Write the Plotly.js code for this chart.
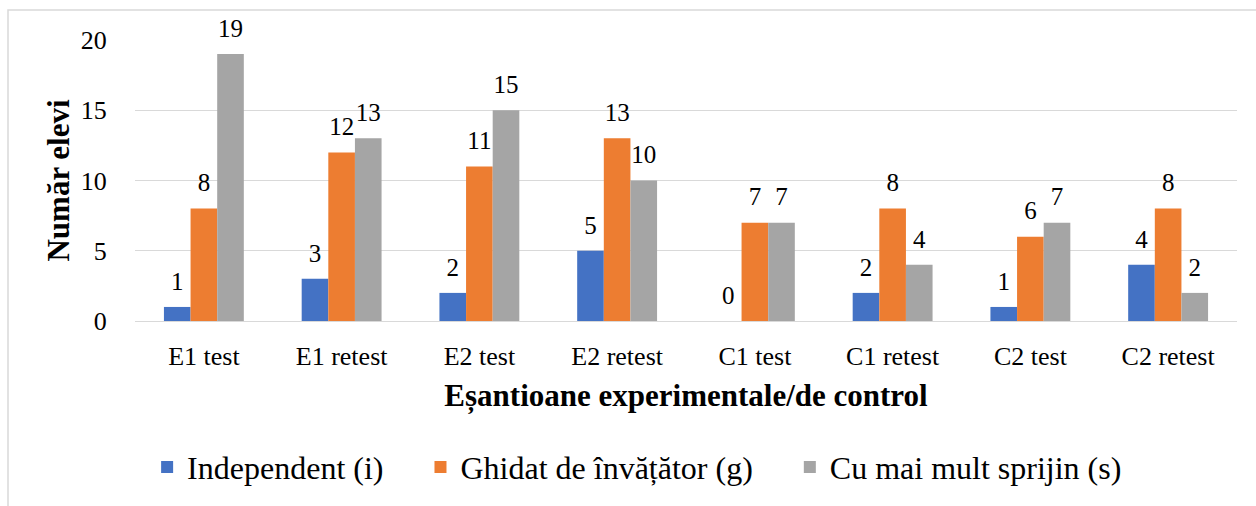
<!DOCTYPE html>
<html>
<head>
<meta charset="utf-8">
<script src="https://cdn.plot.ly/plotly-3.0.1.min.js"></script>
<style>html,body{margin:0;padding:0;background:#fff;}#chart{width:1256px;height:506px;}</style>
</head>
<body>
<div id="chart"></div>
<script>
const categories = ["E1 test","E1 retest","E2 test","E2 retest","C1 test","C1 retest","C2 test","C2 retest"];
const seriesNames = ["Independent (i)","Ghidat de învățător (g)","Cu mai mult sprijin (s)"];
const independent = [1,3,2,5,0,2,1,4];
const ghidat = [8,12,11,13,7,8,6,8];
const sprijin = [19,13,15,10,7,4,7,2];
const yTicks = [0,5,10,15,20];

const colors = ["#4472C4","#ED7D31","#A5A5A5"];
const FONT = "Liberation Serif";
const values = [independent, ghidat, sprijin];
const PAD = "\u00a0\u00a0\u00a0\u00a0";

const bars = values.map((v,i)=>({
  type:"bar",
  name:seriesNames[i] + (i < 2 ? PAD : ""),
  x:categories,
  y:v,
  offsetgroup:"g"+i,
  marker:{color:colors[i]},
  hoverinfo:"x+y+name"
}));

const labels = values.map((v,i)=>({
  type:"scatter",
  mode:"markers+text",
  x:categories,
  y:v,
  offsetgroup:"g"+i,
  text:v.map(String),
  textposition:"top center",
  textfont:{family:FONT,size:25,color:"#000"},
  marker:{size:16,color:"rgba(0,0,0,0)"},
  cliponaxis:false,
  showlegend:false,
  hoverinfo:"skip"
}));

const layout = {
  width:1256, height:506,
  margin:{l:135,r:19,t:40,b:185},
  paper_bgcolor:"#fff", plot_bgcolor:"#fff",
  font:{family:FONT,color:"#000",size:25},
  barmode:"group",
  bargap:0.42,
  bargroupgap:0,
  scattermode:"group",
  scattergap:0.42,
  showlegend:true,
  legend:{orientation:"h",x:0.011,xanchor:"left",y:-0.52,yanchor:"middle",font:{family:FONT,size:32,color:"#000"},itemwidth:30,traceorder:"normal"},
  xaxis:{
    type:"category",
    showgrid:false,
    showline:true, linecolor:"#d9d9d9", linewidth:1,
    tickfont:{family:FONT,size:26},
    ticks:"outside", ticklen:12, tickcolor:"rgba(0,0,0,0)",
    title:{text:"<b>Eșantioane experimentale/de control</b>",font:{family:FONT,size:31},standoff:14}
  },
  yaxis:{
    range:[0,20],
    tickvals:yTicks,
    ticktext:yTicks.map(String),
    showgrid:true, gridcolor:"#d9d9d9", gridwidth:1,
    zeroline:false, showline:false,
    tickfont:{family:FONT,size:26},
    ticks:"outside", ticklen:22, tickcolor:"rgba(0,0,0,0)",
    title:{text:"<b>Număr elevi</b>",font:{family:FONT,size:31},standoff:1}
  },
  shapes:[{
    type:"rect", xref:"paper", yref:"paper",
    x0:(8-135)/1102, x1:1.2, y0:-1, y1:(321-10)/281,
    line:{color:"#d9d9d9",width:1.5}, fillcolor:"rgba(0,0,0,0)", layer:"below"
  }]
};

Plotly.newPlot("chart", bars.concat(labels), layout, {displayModeBar:false, staticPlot:true});
</script>
</body>
</html>
